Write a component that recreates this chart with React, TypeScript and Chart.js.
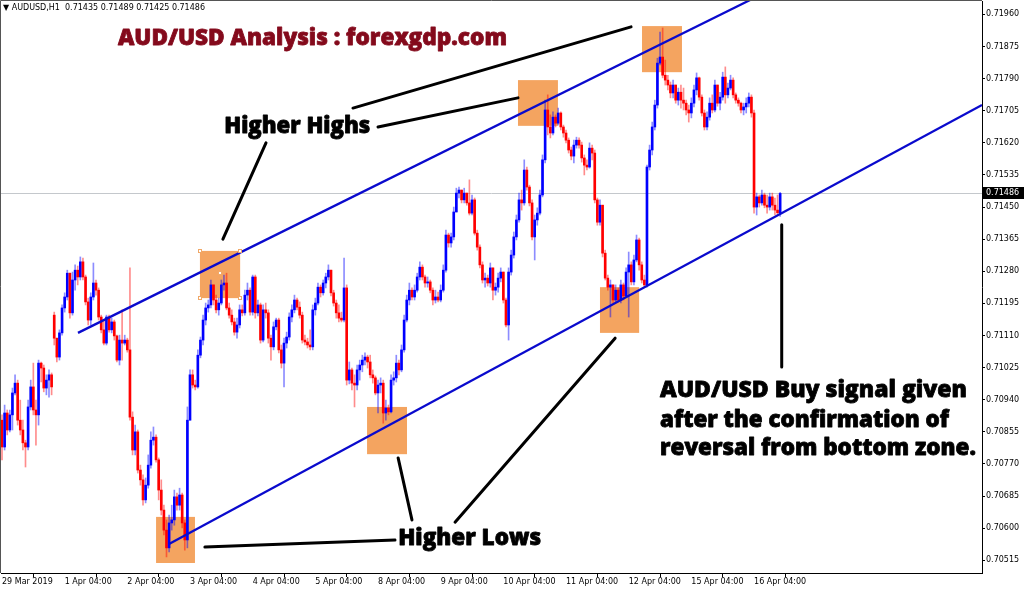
import React, { useEffect, useRef } from 'react';
import { Chart, registerables } from 'chart.js';
Chart.register(...registerables);

// All prices in points (1 point = 0.00001). Hourly AUDUSD bars, 29 Mar – 16 Apr 2019.
const firstOpen = 70886;
const gapOpens: Record<number, number> = { 20: 71164 }; // weekend gap (Mon 1 Apr)

const closes = [
  70815,70905,70860,70900,70958,70984,70886,70860,70826,70815,
  70921,70974,70913,70900,71037,71024,70971,70992,71006,70974,
  71103,71053,71117,71183,71212,71275,71170,71257,71283,71265,
  71305,71265,71199,71151,71212,71249,71230,71159,71125,71090,
  71159,71125,71146,71109,71045,71098,71090,71098,71072,70894,
  70807,70855,70754,70728,70675,70714,70767,70833,70841,70781,
  70701,70648,70595,70548,70614,70622,70683,70661,70688,70614,
  70569,70886,71006,70979,70974,71058,71098,71151,71183,71191,
  71244,71204,71178,71196,71244,71249,71183,71164,71146,71119,
  71138,71178,71170,71217,71230,71172,71265,71170,71191,71098,
  71178,71170,71103,71080,71133,71151,71072,71037,71090,71106,
  71159,71178,71204,71185,71164,71098,71093,71085,71080,71178,
  71196,71238,71223,71249,71265,71283,71223,71196,71170,71156,
  71151,71236,70992,71019,70984,70979,71019,71032,71045,71053,
  71040,71006,70998,70958,70979,70984,70905,70918,70908,70992,
  70998,71037,71019,71072,71151,71204,71230,71212,71230,71265,
  71291,71265,71249,71252,71230,71204,71212,71204,71230,71283,
  71376,71355,71371,71437,71487,71495,71469,71487,71461,71434,
  71469,71381,71344,71297,71257,71262,71249,71289,71230,71238,
  71262,71278,71204,71138,71278,71323,71371,71416,71469,71461,
  71548,71503,71461,71371,71416,71434,71482,71575,71707,71662,
  71646,71688,71672,71699,71662,71646,71627,71601,71585,71614,
  71627,71614,71580,71561,71556,71606,71593,71469,71410,71455,
  71328,71262,71238,71244,71204,71230,71204,71244,71215,71278,
  71297,71252,71310,71363,71297,71257,71244,71556,71601,71662,
  71720,71831,71847,71799,71786,71773,71752,71773,71733,71754,
  71733,71725,71707,71699,71725,71760,71792,71741,71699,71662,
  71688,71725,71707,71773,71725,71741,71794,71747,71765,71786,
  71747,71733,71725,71707,71715,71725,71741,71699,71450,71477,
  71461,71482,71455,71450,71477,71455,71442,71435,71486,
];

const highs = [
  70900,70926,70913,70913,70971,71006,70992,70939,70886,70833,
  70939,70992,71037,70939,71045,71040,71032,71006,71019,71011,
  71172,71103,71125,71191,71223,71283,71257,71278,71297,71294,
  71318,71315,71270,71209,71223,71302,71257,71236,71164,71151,
  71164,71164,71156,71151,71111,71111,71178,71111,71103,71289,
  70908,70873,70860,70767,70741,70733,70794,70855,70868,70847,
  70786,70728,70661,70622,70635,70661,70701,70693,70706,70693,
  70622,70921,71019,71019,70992,71072,71106,71164,71196,71204,
  71257,71244,71217,71209,71257,71270,71275,71196,71178,71156,
  71156,71191,71191,71230,71249,71236,71270,71270,71204,71196,
  71191,71196,71178,71111,71146,71156,71156,71085,71103,71119,
  71170,71191,71217,71209,71199,71172,71111,71103,71125,71191,
  71209,71249,71244,71257,71275,71297,71283,71230,71204,71191,
  71172,71315,71244,71040,71024,71006,71032,71045,71058,71064,
  71058,71058,71019,71003,70992,70998,70992,70939,70926,71006,
  71014,71058,71045,71085,71164,71217,71249,71236,71244,71275,
  71305,71297,71270,71265,71257,71236,71230,71225,71244,71297,
  71389,71381,71381,71450,71500,71503,71495,71500,71487,71522,
  71482,71474,71389,71350,71305,71275,71270,71302,71283,71249,
  71275,71289,71278,71209,71289,71336,71384,71429,71487,71495,
  71575,71556,71508,71469,71429,71448,71495,71588,71733,71747,
  71694,71702,71694,71712,71702,71667,71654,71633,71609,71627,
  71635,71633,71622,71588,71575,71620,71614,71601,71474,71469,
  71455,71336,71270,71257,71244,71244,71236,71257,71249,71289,
  71331,71305,71323,71376,71368,71305,71270,71561,71614,71675,
  71733,71844,71913,71924,71839,71799,71781,71786,71773,71765,
  71773,71765,71733,71720,71739,71773,71805,71794,71747,71707,
  71702,71739,71747,71786,71765,71754,71807,71821,71778,71799,
  71792,71752,71739,71728,71725,71739,71752,71747,71707,71487,
  71482,71495,71487,71482,71487,71487,71474,71482,71489,
];

const lows = [
  70781,70807,70847,70855,70860,70953,70873,70847,70807,70762,
  70807,70913,70900,70820,70873,70987,70961,70953,70947,70953,
  71085,71040,71045,71111,71172,71204,71156,71164,71230,71244,
  71257,71257,71191,71138,71138,71204,71217,71151,71117,71085,
  71085,71119,71117,71098,71040,71032,71045,71085,71066,70886,
  70794,70794,70746,70714,70661,70667,70706,70759,70820,70775,
  70675,70635,70582,70524,70537,70595,70608,70648,70648,70601,
  70542,70548,70886,70971,70966,70971,71051,71085,71138,71172,
  71183,71191,71170,71164,71191,71230,71178,71156,71138,71111,
  71103,71130,71162,71164,71204,71164,71164,71156,71162,71090,
  71093,71156,71090,71045,71072,71125,71064,71024,70974,71077,
  71098,71146,71170,71178,71156,71090,71085,71077,71072,71072,
  71164,71191,71212,71217,71236,71257,71215,71188,71156,71146,
  71146,71146,70979,70982,70966,70921,70966,70992,71014,71032,
  71024,70998,70984,70953,70905,70958,70878,70886,70900,70905,
  70979,70987,71006,71014,71066,71146,71191,71204,71204,71225,
  71257,71257,71238,71238,71223,71191,71196,71199,71199,71225,
  71278,71344,71344,71363,71437,71474,71461,71461,71455,71429,
  71429,71376,71336,71289,71249,71238,71241,71238,71204,71217,
  71225,71252,71196,71133,71098,71270,71315,71363,71410,71442,
  71455,71495,71453,71363,71310,71402,71429,71477,71567,71641,
  71633,71641,71662,71667,71654,71635,71620,71593,71575,71567,
  71606,71606,71569,71535,71548,71553,71575,71461,71402,71402,
  71318,71257,71230,71159,71196,71199,71199,71196,71204,71212,
  71159,71244,71244,71305,71283,71249,71238,71238,71548,71588,
  71654,71712,71826,71792,71773,71760,71739,71739,71725,71720,
  71712,71707,71694,71675,71686,71715,71747,71733,71691,71654,
  71654,71680,71699,71702,71717,71707,71733,71725,71739,71760,
  71739,71725,71717,71699,71694,71699,71715,71688,71434,71429,
  71450,71455,71448,71434,71442,71442,71429,71428,71425,
];

const xTickBars = [0, 24, 48, 72, 96, 120, 144, 168, 192, 216, 240, 264, 288];
const xTickLabels = ['29 Mar 2019', '1 Apr 04:00', '2 Apr 04:00', '3 Apr 04:00', '4 Apr 04:00', '5 Apr 04:00', '8 Apr 04:00', '9 Apr 04:00', '10 Apr 04:00', '11 Apr 04:00', '12 Apr 04:00', '15 Apr 04:00', '16 Apr 04:00'];
const yTickValues = [70515, 70600, 70685, 70770, 70855, 70940, 71025, 71110, 71195, 71280, 71365, 71450, 71535, 71620, 71705, 71790, 71875, 71960];
const lastPrice = 71486;
const headerText = '\u25BC AUDUSD,H1  0.71435 0.71489 0.71425 0.71486';

// Annotations in data coordinates (bar index, points)
const zoneBars = [[59.0, 73.9], [75.8, 91.2], [139.8, 155.1], [197.6, 212.9], [229.0, 244.0], [245.1, 260.4]];
const zonePrices = [[70630, 70508], [71334, 71209], [70921, 70796], [71786, 71665], [71238, 71117], [71929, 71807]];
const channelFrom = [[29.1, 71117], [63.96, 70558]];
const channelTo = [[286.5, 71998], [375.3, 71720]];
const pointerFrom = [[134.4, 71712], [144.0, 71662], [101.1, 71620], [77.7, 70550], [157.0, 70622], [173.5, 70616], [298.6, 71403]];
const pointerTo = [[240.9, 71927], [197.6, 71739], [84.6, 71365], [150.5, 70569], [151.7, 70786], [234.8, 71103], [298.6, 71027]];
const handlePoints = [[75.8, 71334], [91.2, 71334], [75.8, 71209], [91.2, 71209], [83.5, 71275]];
const noteTexts = ['AUD/USD Analysis : forexgdp.com', 'Higher Highs', 'Higher Lows', 'AUD/USD Buy signal given', 'after the confirmation of', 'reversal from bottom zone.'];
const noteAnchors = [[44.4, 71879], [85.1, 71645], [151.7, 70556], [252.0, 70948], [252.0, 70869], [252.0, 70794]];
const noteWidths = [390, 147, 144, 308, 290, 317];
const noteColors = ['#840a1c', '#000', '#000', '#000', '#000', '#000'];

const BULL = '#0000ff';
const BEAR = '#ff0000';
const FONT = '"Open Sans", "DejaVu Sans", sans-serif';

export default function App() {
  const ref = useRef<HTMLCanvasElement>(null);
  useEffect(() => {
    document.body.style.margin = '0';
    const canvas = ref.current!;
    const opens = closes.map((c, i) => (i === 0 ? firstOpen : gapOpens[i] !== undefined ? gapOpens[i] : closes[i - 1]));
    const bull = closes.map((c, i) => c >= opens[i]);
    const wickData = closes.map((c, i) => ({ x: i, y: [Math.min(lows[i], opens[i], c), Math.max(highs[i], opens[i], c)] }));
    const bodyData = closes.map((c, i) => ({ x: i, y: [opens[i], c] }));

    const annot = {
      id: 'annot',
      beforeDatasetsDraw(chart: any) {
        const { ctx, chartArea: a, scales } = chart;
        const x = scales.x, y = scales.y;
        ctx.save();
        ctx.beginPath();
        ctx.rect(a.left, a.top, a.right - a.left, a.bottom - a.top);
        ctx.clip();
        ctx.fillStyle = '#f4a460';
        zoneBars.forEach((b, k) => {
          const x1 = x.getPixelForValue(b[0]), x2 = x.getPixelForValue(b[1]);
          const y1 = y.getPixelForValue(zonePrices[k][0]), y2 = y.getPixelForValue(zonePrices[k][1]);
          ctx.fillRect(x1, y1, x2 - x1, y2 - y1);
        });
        const py = Math.round(y.getPixelForValue(lastPrice)) + 0.5;
        ctx.strokeStyle = '#c4c8cc';
        ctx.lineWidth = 1;
        ctx.beginPath();
        ctx.moveTo(a.left, py);
        ctx.lineTo(a.right, py);
        ctx.stroke();
        ctx.restore();
      },
      afterDatasetsDraw(chart: any) {
        const { ctx, chartArea: a, scales } = chart;
        const x = scales.x, y = scales.y;
        ctx.save();
        ctx.beginPath();
        ctx.rect(a.left, a.top, a.right - a.left, a.bottom - a.top);
        ctx.clip();
        ctx.strokeStyle = '#0a0acd';
        ctx.lineWidth = 2.3;
        channelFrom.forEach((p, k) => {
          ctx.beginPath();
          ctx.moveTo(x.getPixelForValue(p[0]), y.getPixelForValue(p[1]));
          ctx.lineTo(x.getPixelForValue(channelTo[k][0]), y.getPixelForValue(channelTo[k][1]));
          ctx.stroke();
        });
        ctx.strokeStyle = '#000';
        ctx.lineWidth = 3;
        ctx.lineCap = 'round';
        pointerFrom.forEach((p, k) => {
          ctx.beginPath();
          ctx.moveTo(x.getPixelForValue(p[0]), y.getPixelForValue(p[1]));
          ctx.lineTo(x.getPixelForValue(pointerTo[k][0]), y.getPixelForValue(pointerTo[k][1]));
          ctx.stroke();
        });
        ctx.lineWidth = 1;
        ctx.strokeStyle = '#f0a868';
        ctx.fillStyle = '#ffffff';
        handlePoints.forEach((p) => {
          const hx = Math.round(x.getPixelForValue(p[0])), hy = Math.round(y.getPixelForValue(p[1]));
          ctx.fillRect(hx - 1.5, hy - 1.5, 3, 3);
          ctx.strokeRect(hx - 1.5, hy - 1.5, 3, 3);
        });
        ctx.textAlign = 'left';
        ctx.textBaseline = 'alphabetic';
        ctx.lineJoin = 'round';
        noteTexts.forEach((t, k) => {
          ctx.font = `800 20px ${FONT}`;
          const w = ctx.measureText(t).width;
          const size = (20 * (noteWidths[k] - 1)) / w;
          ctx.font = `800 ${size.toFixed(2)}px ${FONT}`;
          ctx.fillStyle = noteColors[k];
          ctx.strokeStyle = noteColors[k];
          ctx.lineWidth = 0.8;
          const tx = x.getPixelForValue(noteAnchors[k][0]), ty = y.getPixelForValue(noteAnchors[k][1]);
          ctx.fillText(t, tx, ty);
          ctx.strokeText(t, tx, ty);
        });
        ctx.font = '8px "DejaVu Sans", sans-serif';
        ctx.fillStyle = '#000';
        ctx.textBaseline = 'middle';
        ctx.fillText(headerText, a.left + 2, a.top + 7);
        ctx.restore();
      },
      afterDraw(chart: any) {
        const { ctx, chartArea: a, scales } = chart;
        const y = scales.y;
        ctx.save();
        ctx.strokeStyle = '#555';
        ctx.lineWidth = 1;
        ctx.beginPath();
        ctx.moveTo(a.left - 0.5, a.bottom);
        ctx.lineTo(a.left - 0.5, a.top - 0.5);
        ctx.lineTo(a.right, a.top - 0.5);
        ctx.stroke();
        const py = Math.round(y.getPixelForValue(lastPrice));
        ctx.fillStyle = '#000';
        ctx.fillRect(a.right + 1, py - 6, 42, 12);
        ctx.fillStyle = '#fff';
        ctx.font = '8px "DejaVu Sans", sans-serif';
        ctx.textBaseline = 'middle';
        ctx.textAlign = 'left';
        ctx.fillText((lastPrice / 1e5).toFixed(5), a.right + 4, py);
        ctx.restore();
      },
    };

    const zeroPad = (s: any) => {
      s.paddingTop = 0;
      s.paddingBottom = 0;
      s.paddingLeft = 0;
      s.paddingRight = 0;
    };

    const chart = new Chart(canvas, {
      type: 'bar',
      data: {
        datasets: [
          {
            data: wickData as any,
            backgroundColor: bull.map((b) => (b ? 'rgba(0,0,255,0.45)' : 'rgba(255,0,0,0.45)')),
            barThickness: 1,
            grouped: false,
            borderWidth: 0,
          } as any,
          {
            data: bodyData as any,
            backgroundColor: bull.map((b) => (b ? BULL : BEAR)),
            barThickness: 2,
            minBarLength: 1,
            grouped: false,
            borderWidth: 0,
          } as any,
        ],
      },
      options: {
        animation: false,
        responsive: false,
        maintainAspectRatio: false,
        layout: { padding: { left: 1, top: 1, right: 0, bottom: 0 } },
        plugins: { legend: { display: false }, tooltip: { enabled: false }, title: { display: false } },
        scales: {
          x: {
            type: 'linear',
            min: -0.383,
            max: 375.3,
            offset: false,
            grid: { display: true, drawOnChartArea: false, drawTicks: true, tickLength: 4, color: '#000' },
            border: { display: true, color: '#000', width: 1 },
            ticks: {
              autoSkip: false,
              maxRotation: 0,
              minRotation: 0,
              align: 'start',
              padding: 0,
              color: '#000',
              font: { family: '"DejaVu Sans", sans-serif', size: 8 },
              callback: (_v: any, i: number) => xTickLabels[i],
            },
            afterBuildTicks: (s: any) => {
              s.ticks = xTickBars.map((v) => ({ value: v }));
            },
            afterFit: (s: any) => {
              s.height = 16;
              zeroPad(s);
            },
          },
          y: {
            type: 'linear',
            position: 'right',
            min: 70481.5,
            max: 71995.4,
            grid: { display: true, drawOnChartArea: false, drawTicks: true, tickLength: 3, color: '#000' },
            border: { display: true, color: '#000', width: 1 },
            ticks: {
              padding: 1,
              color: '#000',
              font: { family: '"DejaVu Sans", sans-serif', size: 8 },
              callback: (v: any) => (Number(v) / 1e5).toFixed(5),
            },
            afterBuildTicks: (s: any) => {
              s.ticks = yTickValues.map((v) => ({ value: v }));
            },
            afterFit: (s: any) => {
              s.width = 42;
              zeroPad(s);
            },
          },
        },
      } as any,
      plugins: [annot],
    });
    return () => chart.destroy();
  }, []);
  return (
    <div style={{ width: 1024, height: 589, background: '#fff' }}>
      <canvas ref={ref} width={1024} height={589} style={{ display: 'block', width: 1024, height: 589 }} />
    </div>
  );
}
